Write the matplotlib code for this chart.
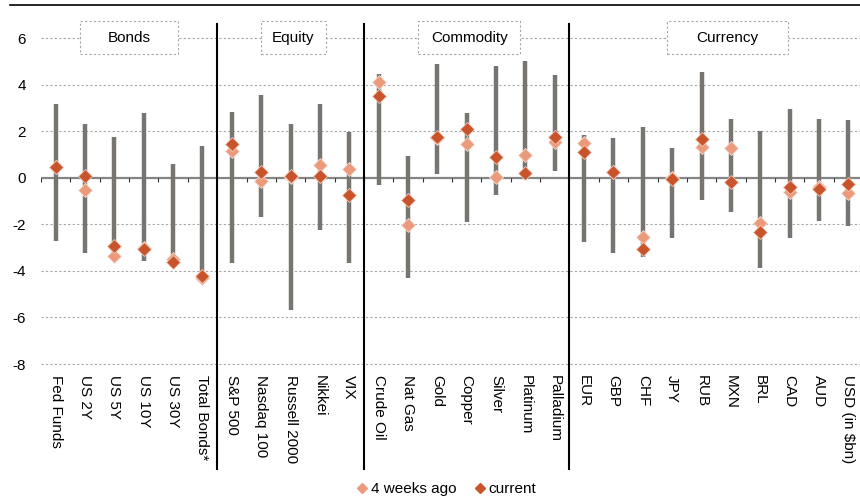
import numpy as np
import matplotlib
matplotlib.use('Agg')
import matplotlib.pyplot as plt
from matplotlib.patches import Rectangle
from matplotlib.lines import Line2D

plt.rcParams['font.family'] = ['Liberation Sans', 'DejaVu Sans']

# Data
labels = ['Fed Funds', 'US 2Y', 'US 5Y', 'US 10Y', 'US 30Y', 'Total Bonds*',
          'S&P 500', 'Nasdaq 100', 'Russell 2000', 'Nikkei', 'VIX',
          'Crude Oil', 'Nat Gas', 'Gold', 'Copper', 'Silver', 'Platinum', 'Palladium',
          'EUR', 'GBP', 'CHF', 'JPY', 'RUB', 'MXN', 'BRL', 'CAD', 'AUD', 'USD (in $bn)']
groups = ['Bonds', 'Equity', 'Commodity', 'Currency']
group_sizes = [6, 5, 7, 10]

range_hi = [3.15, 2.32, 1.75, 2.77, 0.59, 1.35,
            2.81, 3.56, 2.31, 3.17, 1.98,
            4.46, 0.93, 4.90, 2.77, 4.79, 5.03, 4.43,
            1.84, 1.69, 2.18, 1.29, 4.54, 2.51, 2.01, 2.95, 2.52, 2.48]
range_lo = [-2.70, -3.24, -3.32, -3.57, -3.60, -4.20,
            -3.65, -1.67, -5.68, -2.24, -3.67,
            -0.30, -4.29, 0.17, -1.92, -0.75, 0.18, 0.30,
            -2.77, -3.24, -3.40, -2.57, -0.95, -1.46, -3.86, -2.59, -1.86, -2.06]
weeks_ago = [0.46, -0.53, -3.37, -3.03, -3.50, -4.32,
             1.13, -0.14, 0.05, 0.53, 0.39,
             4.10, -2.04, 1.70, 1.46, 0.01, 0.96, 1.52,
             1.49, 0.25, -2.54, -0.03, 1.32, 1.28, -1.95, -0.63, -0.40, -0.66]
current = [0.46, 0.06, -2.92, -3.05, -3.64, -4.21,
           1.43, 0.26, 0.06, 0.09, -0.75,
           3.53, -0.96, 1.74, 2.08, 0.90, 0.20, 1.73,
           1.09, 0.26, -3.07, -0.06, 1.66, -0.19, -2.34, -0.42, -0.47, -0.26]

# group label boxes (center x, width) in category units
box_x = [2.5, 8.1, 14.09, 22.89]
box_w = [3.34, 2.2, 3.47, 4.12]

x = np.arange(len(labels))
c_light = '#eb9b7c'
c_dark = '#c9542b'
c_bar = '#787470'
c_grid = '#a6a6a6'

fig = plt.figure(figsize=(8.6, 4.96), dpi=100)
ax = fig.add_axes([41 / 860, 1 - 364 / 496, 822 / 860, 326 / 496])
ax.set_xlim(-0.5, len(labels) - 0.5)
ax.set_ylim(-8, 6)

# dashed gridlines (no gridline at zero, zero line drawn instead)
for yv in [6, 4, 2, -2, -4, -6, -8]:
    ax.axhline(yv, color=c_grid, lw=0.8, ls=(0, (2, 2)), zorder=0, clip_on=False)
ax.axhline(0, color='#858585', lw=1.6, zorder=1)
bounds = np.arange(len(labels) + 1) - 0.5
ax.vlines(bounds, -0.17, 0, color='#333333', lw=0.8, zorder=1)

# range bars and markers
ax.vlines(x, range_lo, range_hi, color=c_bar, lw=3.2, zorder=2)
ax.plot(x, weeks_ago, ls='none', marker='D', ms=7, color=c_light,
        mec='#f6ddd2', mew=0.6, zorder=3, label='4 weeks ago')
ax.plot(x, current, ls='none', marker='D', ms=7, color=c_dark,
        mec='#f0cbbb', mew=0.6, zorder=4, label='current')

# group separators
edges = np.cumsum(group_sizes)[:-1] - 0.5
for e in edges:
    ax.plot([e, e], [6.62, -12.52], color='black', lw=1.5, clip_on=False, zorder=5)

# group title boxes
for name, cx, w in zip(groups, box_x, box_w):
    ax.add_patch(Rectangle((cx - w / 2, 5.33), w, 1.38, facecolor='white',
                           edgecolor=c_grid, lw=0.8, ls=(0, (2, 2)),
                           clip_on=False, zorder=2))
    ax.text(cx, 6.02, name, ha='center', va='center', fontsize=11, zorder=3)

ax.set_xticks(x)
ax.set_xticklabels(labels, rotation=270, fontsize=11)
ax.set_yticks([6, 4, 2, 0, -2, -4, -6, -8])
ax.set_yticklabels(['6', '4', '2', '0', '-2', '-4', '-6', '-8'], fontsize=11)
ax.tick_params(axis='x', length=0, pad=8)
ax.tick_params(axis='y', length=0, pad=11)
for s in ax.spines.values():
    s.set_visible(False)

# top rule
fig.add_artist(Line2D([10 / 860, 1], [1 - 5 / 496, 1 - 5 / 496], color='black', lw=1.2))

handles = [Line2D([], [], ls='none', marker='D', ms=5, color=c_light),
           Line2D([], [], ls='none', marker='D', ms=5, color=c_dark)]
fig.legend(handles, ['4 weeks ago', 'current'], loc='center', ncol=2,
           bbox_to_anchor=(447 / 860, 7 / 496), frameon=False, fontsize=11,
           handlelength=0.6, handletextpad=0.3, columnspacing=1.2)

fig.savefig('out.png', dpi=100)
